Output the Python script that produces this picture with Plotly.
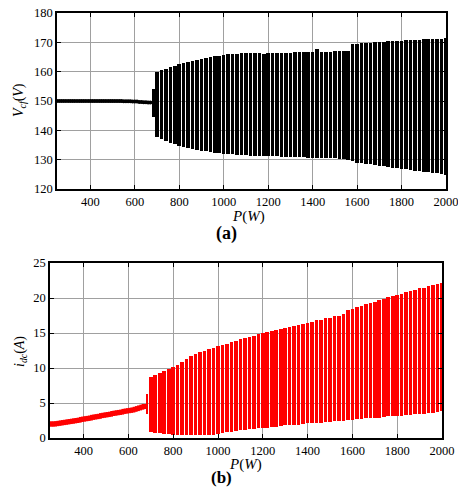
import plotly.graph_objects as go

# ---------------- data ----------------
# steady-state (period-1) branch
P_ss = list(range(250, 680, 10))
V_ss = [150.0, 150.0, 150.0, 150.0, 150.0, 150.0, 150.0, 150.0, 150.0, 150.0,
        150.0, 150.0, 150.0, 150.0, 150.0, 150.0, 150.0, 150.0, 150.0, 150.0,
        150.0, 150.0, 150.0, 150.0, 150.0, 150.0, 150.0, 150.0, 150.0, 150.0,
        149.9, 149.9, 149.9, 149.9, 149.8, 149.8, 149.8, 149.7, 149.7, 149.6,
        149.6, 149.5, 149.5]
I_ss = [2.0, 2.0, 2.0, 2.05, 2.1, 2.15, 2.2, 2.25, 2.3, 2.35,
        2.4, 2.45, 2.5, 2.55, 2.65, 2.7, 2.75, 2.8, 2.85, 2.95,
        3.0, 3.05, 3.1, 3.2, 3.25, 3.3, 3.35, 3.4, 3.5, 3.55,
        3.6, 3.65, 3.7, 3.8, 3.85, 3.9, 3.95, 4.0, 4.1, 4.2,
        4.3, 4.4, 4.5]

# transition band
P_tr = [683]
V_tr_min = [144.5]
V_tr_max = [154.0]
I_tr_min = [3.4]
I_tr_max = [6.3]

# chaotic columns
P_col = list(range(700, 2001, 20))
V_max = [160.0, 160.5, 161.0, 161.5, 162.0, 162.5, 162.9, 163.3, 163.7, 164.0,
         164.3, 164.7, 165.0, 165.3, 165.5, 165.7, 165.9, 166.0, 166.1, 166.2,
         166.2, 166.3, 166.3, 166.4, 166.0, 166.3, 166.4, 166.4, 166.5, 166.5,
         166.5, 166.6, 166.6, 166.6, 166.7, 166.6, 167.8, 166.7, 166.8, 166.8,
         166.9, 167.0, 167.0, 167.2, 169.3, 169.5, 169.7, 169.8, 169.9, 170.0,
         170.1, 170.2, 170.3, 170.4, 170.5, 170.6, 170.7, 170.7, 170.8, 170.9,
         171.0, 171.0, 171.1, 171.2, 171.3, 171.4]
V_min = [137.8, 137.0, 136.3, 135.7, 135.2, 134.8, 134.4, 134.0, 133.7, 133.4,
         133.1, 132.9, 132.6, 132.4, 132.2, 132.0, 131.9, 131.8, 131.7, 131.6,
         131.5, 131.4, 131.3, 131.3, 131.2, 131.2, 131.1, 131.1, 131.0, 131.0,
         130.9, 130.9, 130.8, 130.8, 130.7, 130.7, 130.4, 130.6, 130.5, 130.5,
         130.4, 130.3, 130.2, 130.0, 129.4, 129.0, 128.8, 128.6, 128.4, 128.2,
         128.0, 127.8, 127.6, 127.3, 127.1, 126.9, 126.7, 126.5, 126.3, 126.1,
         125.9, 125.7, 125.5, 125.3, 125.1, 124.9]
I_max = [8.7, 9.0, 9.3, 9.6, 9.9, 10.2, 10.5, 10.9, 11.3, 11.7,
         12.0, 12.3, 12.5, 12.7, 12.9, 13.1, 13.3, 13.5, 13.7, 13.9,
         14.1, 14.3, 14.5, 14.6, 14.8, 15.0, 15.1, 15.3, 15.4, 15.6,
         15.7, 15.9, 16.0, 16.2, 16.3, 16.5, 16.6, 16.8, 16.9, 17.1,
         17.2, 17.4, 17.5, 17.7, 18.3, 18.5, 18.7, 18.9, 19.1, 19.3,
         19.5, 19.7, 19.9, 20.1, 20.3, 20.5, 20.6, 20.8, 21.0, 21.2,
         21.4, 21.5, 21.7, 21.8, 22.0, 22.1]
I_min = [0.8, 0.7, 0.7, 0.6, 0.6, 0.5, 0.5, 0.4, 0.4, 0.4,
         0.4, 0.4, 0.4, 0.5, 0.5, 0.6, 0.7, 0.8, 0.9, 1.0,
         1.1, 1.2, 1.3, 1.3, 1.4, 1.5, 1.5, 1.6, 1.6, 1.7,
         1.8, 1.8, 1.9, 1.9, 2.0, 2.1, 2.1, 2.2, 2.2, 2.3,
         2.3, 2.4, 2.4, 2.5, 2.6, 2.6, 2.7, 2.7, 2.8, 2.8,
         2.9, 2.9, 3.0, 3.1, 3.1, 3.2, 3.2, 3.3, 3.3, 3.4,
         3.5, 3.5, 3.6, 3.6, 3.7, 3.8]

x_ticks = [400, 600, 800, 1000, 1200, 1400, 1600, 1800, 2000]
ya_ticks = [120, 130, 140, 150, 160, 170, 180]
yb_ticks = [0, 5, 10, 15, 20, 25]

# ---------------- figure ----------------
OX, OY = 8, 8            # page body margin offset
FW, FH = 466 - OX, 488 - OY
FONT = "Liberation Serif, Times New Roman, DejaVu Serif, serif"
BLACK = "#000000"
RED = "#ff0000"


def px(x):
    return (x - OX) / FW


def py(y):
    return 1 - (y - OY) / FH


fig = go.Figure()

# panel (a)
fig.add_trace(go.Scatter(x=P_ss, y=V_ss, mode="lines+markers",
                         line=dict(color=BLACK, width=2),
                         marker=dict(color=BLACK, size=4, symbol="circle"),
                         xaxis="x", yaxis="y", showlegend=False))
fig.add_trace(go.Bar(x=P_tr, base=V_tr_min,
                     y=[a - b for a, b in zip(V_tr_max, V_tr_min)],
                     width=12, marker=dict(color=BLACK, line=dict(width=0)),
                     xaxis="x", yaxis="y", showlegend=False))
fig.add_trace(go.Bar(x=P_col, base=V_min,
                     y=[a - b for a, b in zip(V_max, V_min)],
                     width=16, marker=dict(color=BLACK, line=dict(width=0)),
                     xaxis="x", yaxis="y", showlegend=False))

# panel (b)
fig.add_trace(go.Scatter(x=P_ss, y=I_ss, mode="lines+markers",
                         line=dict(color=RED, width=3),
                         marker=dict(color=RED, size=5, symbol="square"),
                         xaxis="x2", yaxis="y2", showlegend=False))
fig.add_trace(go.Bar(x=P_tr, base=I_tr_min,
                     y=[a - b for a, b in zip(I_tr_max, I_tr_min)],
                     width=12, marker=dict(color=RED, line=dict(width=0)),
                     xaxis="x2", yaxis="y2", showlegend=False))
fig.add_trace(go.Bar(x=P_col, base=I_min,
                     y=[a - b for a, b in zip(I_max, I_min)],
                     width=16, marker=dict(color=RED, line=dict(width=0)),
                     xaxis="x2", yaxis="y2", showlegend=False))

axis_common = dict(showline=True, linecolor=BLACK, linewidth=1.5, mirror="ticks",
                   ticks="inside", ticklen=4, tickcolor=BLACK, automargin=False,
                   ticklabeloverflow="allow",
                   showgrid=True, gridcolor="#a0a0a0", gridwidth=1,
                   zeroline=False, tickfont=dict(family=FONT, size=12.5, color=BLACK))

fig.update_layout(
    template="none",
    width=FW, height=FH,
    margin=dict(l=0, r=0, t=0, b=0, pad=0),
    paper_bgcolor="white", plot_bgcolor="white",
    font=dict(family=FONT, color=BLACK),
    barmode="overlay", bargap=0,
    xaxis=dict(domain=[px(57), px(446)], range=[250, 2000], tickvals=x_ticks,
               anchor="y", **axis_common),
    yaxis=dict(domain=[py(189), py(13)], range=[120, 180], tickvals=ya_ticks,
               anchor="x", **axis_common),
    xaxis2=dict(domain=[px(50), px(442)], range=[250, 2000], tickvals=x_ticks,
                anchor="y2", **axis_common),
    yaxis2=dict(domain=[py(438), py(263)], range=[0, 25], tickvals=yb_ticks,
                anchor="x2", **axis_common),
)


def ann(text, x, y, size=14, angle=0):
    fig.add_annotation(text=text, x=px(x), y=py(y), xref="paper", yref="paper",
                       showarrow=False, textangle=angle,
                       font=dict(family=FONT, size=size, color=BLACK),
                       xanchor="center", yanchor="middle")


ann("<i>V</i><sub><i>cf</i></sub>(<i>V</i>)", 19, 100, size=14, angle=-90)
ann("<i>P</i>(<i>W</i>)", 249, 216, size=15)
ann("<b>(a)</b>", 226, 233, size=18)
ann("<i>i</i><sub><i>dc</i></sub>(<i>A</i>)", 20, 352, size=14, angle=-90)
ann("<i>P</i>(<i>W</i>)", 245, 464, size=15)
ann("<b>(b)</b>", 221, 477, size=17)

fig.write_html("out.html")
